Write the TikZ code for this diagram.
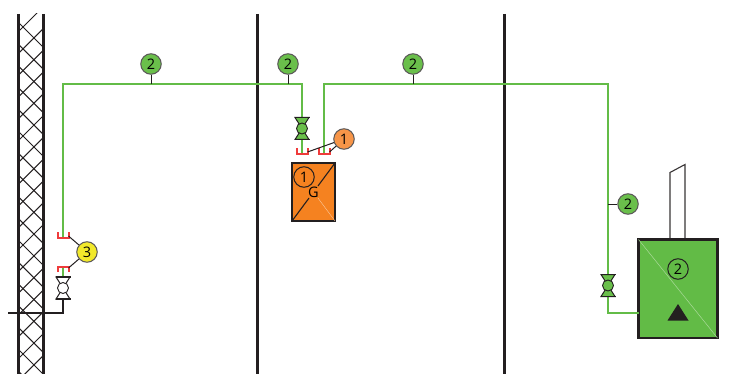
\documentclass[tikz,border=0pt]{standalone}
\usepackage{fontspec}
\setmainfont{Open Sans}
\definecolor{pipegreen}{HTML}{63BC47}
\definecolor{taggreen}{HTML}{6ABF4B}
\definecolor{boxgreen}{HTML}{62BB46}
\definecolor{boxorange}{HTML}{F58220}
\definecolor{tagorange}{HTML}{F79548}
\definecolor{tagyellow}{HTML}{F2E92B}
\definecolor{flangered}{HTML}{EF3B3B}
\definecolor{darkline}{HTML}{231F20}
\tikzset{
  wallline/.style={line width=3pt, darkline},
  pipe/.style={line width=2.8pt, pipegreen},
  feed/.style={line width=2.4pt, darkline},
  leader/.style={line width=1pt, darkline},
  tag/.style={circle, draw=darkline!75, line width=1pt, minimum size=20.5pt, inner sep=0pt, font=\fontsize{14.5}{14.5}\selectfont},
  ring/.style={circle, draw=darkline, line width=1pt, minimum size=20.5pt, inner sep=0pt, font=\fontsize{14.5}{14.5}\selectfont},
  unit/.style={draw=darkline, line width=2.2pt, inner sep=0pt, outer sep=0pt, anchor=north west},
  pics/valve/.style={code={
    \draw[darkline, line width=1pt, fill=#1] (-7,-11) -- (7,-11) -- (-7,11) -- (7,11) -- cycle;
    \draw[darkline, line width=1.2pt] (-7.5,-11) -- (7.5,-11) (-7.5,11) -- (7.5,11);
    \node[circle, draw=darkline, line width=0.9pt, fill=#1, minimum size=11pt, inner sep=0pt] at (0,0) {};
  }},
  pics/flange/.style={code={
    \draw[flangered, line width=2pt] (-5.5,-#1) -- (-5.5,0) -- (5.5,0) -- (5.5,-#1);
  }},
}
\begin{document}
\begin{tikzpicture}[x=1pt, y=-1pt]
\useasboundingbox (0,0) rectangle (746,374);
% wall
\begin{scope}
\clip (18,14) rectangle (43,374);
\foreach \y in {0,...,16} {
  \draw[line width=1pt, darkline] (18,22+21.8*\y) -- (43,47+21.8*\y);
  \draw[line width=1pt, darkline] (43,7+21.8*\y) -- (18,32+21.8*\y);
}
\end{scope}
\draw[wallline] (18.5,14) -- (18.5,374);
\draw[wallline] (43,14) -- (43,374);
\draw[wallline] (257,14) -- (257,374);
\draw[wallline] (504.5,14) -- (504.5,374);
% pipes
\coordinate (fl0) at (63,238);
\coordinate (fl1) at (63,267);
\coordinate (fl2) at (302,154);
\coordinate (fl3) at (324,154);
\coordinate (va0) at (63,288);
\coordinate (va1) at (302,128.5);
\coordinate (va2) at (608,285.5);
\coordinate (bn0) at (63,84);
\coordinate (bn1) at (302,84);
\coordinate (bn2) at (324,84);
\coordinate (bn3) at (608,84);
\coordinate (bn4) at (608,313);
\coordinate (bn5) at (63,313);
\coordinate (ed0) at (8,313);
\coordinate (ta0) at (151,84);
\coordinate (ta1) at (288,84);
\coordinate (ta2) at (413,84);
\coordinate (ta3) at (608,204);
% units
\node[unit, fill=boxgreen, minimum width=79pt, minimum height=98.5pt] (boiler) at (638.5,239.5) {};
\node[unit, fill=boxorange, line width=1.2pt, minimum width=43pt, minimum height=58pt] (tank) at (292,163) {};
\draw[pipe] (fl0) -- (bn0) -- (bn1) -- (fl2);
\draw[pipe] (fl3) -- (bn2) -- (bn3) -- (bn4) -- (boiler.west |- bn4);
\draw[pipe] (fl1) -- (va0);
\draw[feed] (va0) -- (bn5) -- (ed0);
\node[inner sep=0.5pt, font=\fontsize{14.5}{14.5}\selectfont] (tankg) at (313.5,192) {G};
\draw[white!55!boxorange, line width=0.4pt] (tankg) -- (tank.south east);
\draw[darkline, line width=1.1pt] (tank.south west) -- (tankg);
\draw[darkline, line width=1.1pt] (tankg) -- (tank.north east);
\node[ring] (tankno) at (304,177) {1};
\draw[white!45!boxgreen, line width=0.5pt] (boiler.north west) -- (boiler.south east);
\node[ring] (boilerno) at (678,269) {2};
\fill[darkline] (678,304) -- (688.5,320.5) -- (667.5,320.5) -- cycle;
\coordinate (st0) at (670,238);
\coordinate (st1) at (670,172.5);
\coordinate (st2) at (685,164.5);
\coordinate (st3) at (685,238);
\draw[darkline!90, line width=1.1pt] (st0) -- (st1) -- (st2) -- (st3);
% fittings
\pic at (va0) {valve=white};
\pic at (va1) {valve=taggreen};
\pic at (va2) {valve=taggreen};
\pic at (fl0) {flange=6};
\pic[yscale=-1] at (fl1) {flange=5};
\pic at (fl2) {flange=6};
\pic at (fl3) {flange=6};
% tags
\node[tag, fill=taggreen] (tag0) at (151,64) {2};
\node[tag, fill=taggreen] (tag1) at (288,64) {2};
\node[tag, fill=taggreen] (tag2) at (413,64) {2};
\node[tag, fill=taggreen] (tag3) at (628,204) {2};
\node[tag, fill=tagorange] (tag4) at (344,139) {1};
\node[tag, fill=tagyellow] (tag5) at (87,252) {3};
\draw[leader] (tag0) -- (ta0);
\draw[leader] (tag1) -- (ta1);
\draw[leader] (tag2) -- (ta2);
\draw[leader] (tag3) -- (ta3);
\coordinate (fe0) at (68.5,236);
\coordinate (fe1) at (68.5,268);
\coordinate (fe2) at (307.5,152);
\coordinate (fe3) at (329.5,152);
\draw[leader] (tag5) -- (fe0);
\draw[leader] (tag5) -- (fe1);
\draw[leader] (tag4) -- (fe2);
\draw[leader] (tag4) -- (fe3);
\end{tikzpicture}
\end{document}
